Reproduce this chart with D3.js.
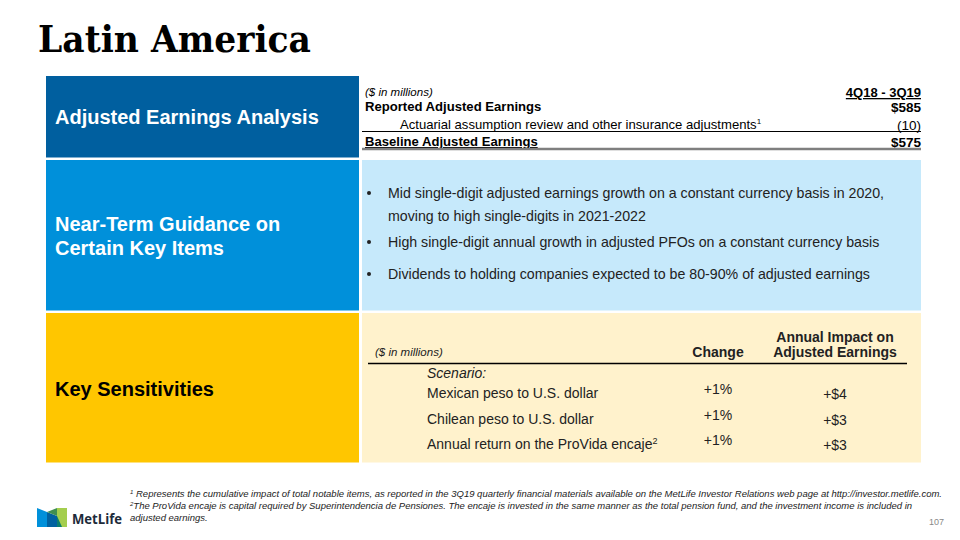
<!DOCTYPE html>
<html><head><meta charset="utf-8">
<script src="https://cdn.jsdelivr.net/npm/d3@7"></script>
<style>
html,body{margin:0;padding:0;background:#fff;}
svg{display:block;font-family:"Liberation Sans",Arial,sans-serif;}
</style></head>
<body>
<svg id="c" width="960" height="540"></svg>
<script>
// ---- Data ----
const title = "Latin America";
const sections = ["Adjusted Earnings Analysis", "Near-Term Guidance on\nCertain Key Items", "Key Sensitivities"];
const earningsHeader = ["($ in millions)", "4Q18 - 3Q19"];
const earningsLabels = ["Reported Adjusted Earnings", "Actuarial assumption review and other insurance adjustments", "Baseline Adjusted Earnings"];
const earningsValues = ["$585", "(10)", "$575"];
const guidanceBullets = [
  "Mid single-digit adjusted earnings growth on a constant currency basis in 2020,\nmoving to high single-digits in 2021-2022",
  "High single-digit annual growth in adjusted PFOs on a constant currency basis",
  "Dividends to holding companies expected to be 80-90% of adjusted earnings"
];
const sensHeader = ["($ in millions)", "Change", "Annual Impact on\nAdjusted Earnings"];
const sensScenarios = ["Mexican peso to U.S. dollar", "Chilean peso to U.S. dollar", "Annual return on the ProVida encaje"];
const sensChange = ["+1%", "+1%", "+1%"];
const sensImpact = ["+$4", "+$3", "+$3"];
const footnotes = [
  ["1", " Represents the cumulative impact of total notable items, as reported in the 3Q19 quarterly financial materials available on the MetLife Investor Relations web page at http://investor.metlife.com."],
  ["2", "The ProVida encaje is capital required by Superintendencia de Pensiones. The encaje is invested in the same manner as the total pension fund, and the investment income is included in"],
  ["", "adjusted earnings."]
];
const pageNumber = "107";

// ---- Drawing ----
const svg = d3.select("#c");

svg.append("text").attr("x", 38).attr("y", 52)
  .attr("font-family", "'DejaVu Serif', 'Liberation Serif', serif")
  .attr("font-weight", "bold").attr("font-size", 37.5)
  .attr("textLength", 273).attr("lengthAdjust", "spacingAndGlyphs")
  .attr("fill", "#000").text(title);

// section rows
const rowY = [76, 160, 313];
const rowH = [81.5, 150.5, 149.5];
const leftColors = ["#005f9f", "#0090da", "#ffc600"];
const rightColors = ["#ffffff", "#c6e9fb", "#fff2cc"];
const leftText = ["#ffffff", "#ffffff", "#000000"];
const textBase = [[124], [231, 255], [396]];

const sec = svg.append("g").selectAll("g").data(sections).join("g");
sec.append("rect").attr("x", 46).attr("y", (d, i) => rowY[i]).attr("width", 313).attr("height", (d, i) => rowH[i])
  .attr("fill", (d, i) => leftColors[i]);
sec.append("rect").attr("x", 362).attr("y", (d, i) => rowY[i]).attr("width", 559).attr("height", (d, i) => rowH[i])
  .attr("fill", (d, i) => rightColors[i]);
sec.each(function (d, i) {
  const g = d3.select(this);
  d.split("\n").forEach((line, j) => {
    g.append("text").attr("x", 55).attr("y", textBase[i][j])
      .attr("font-size", 20).attr("font-weight", "bold").attr("fill", leftText[i]).text(line);
  });
});

// ---- Earnings table ----
const et = svg.append("g");
const eRight = 921;
et.append("text").attr("x", 365).attr("y", 96).attr("font-size", 11.5).attr("font-style", "italic").text(earningsHeader[0]);
et.append("text").attr("x", eRight).attr("y", 97).attr("font-size", 13).attr("font-weight", "bold")
  .attr("text-anchor", "end").attr("text-decoration", "underline").text(earningsHeader[1]);
const eY = d3.scalePoint().domain(earningsLabels).range([111, 146]);
const eRows = et.selectAll("g.row").data(earningsLabels).join("g").attr("class", "row");
eRows.append("text")
  .attr("x", (d, i) => i === 1 ? 400 : 365)
  .attr("y", d => eY(d))
  .attr("font-size", 13.1)
  .attr("font-weight", (d, i) => i === 1 ? "normal" : "bold")
  .attr("text-decoration", (d, i) => i === 2 ? "underline" : null)
  .each(function (d, i) {
    const t = d3.select(this);
    t.append("tspan").text(d);
    if (i === 1) t.append("tspan").attr("font-size", 8).attr("dy", -5).text("1");
  });
eRows.append("text").attr("x", eRight).attr("y", d => eY(d) + 1)
  .attr("font-size", 13.5).attr("text-anchor", "end")
  .attr("font-weight", (d, i) => i === 1 ? "normal" : "bold")
  .attr("text-decoration", (d, i) => i === 2 ? "underline" : null)
  .text((d, i) => earningsValues[i]);
et.append("line").attr("x1", 362).attr("x2", eRight).attr("y1", 131.5).attr("y2", 131.5).attr("stroke", "#000").attr("stroke-width", 1);
et.append("line").attr("x1", 362).attr("x2", eRight).attr("y1", 149).attr("y2", 149).attr("stroke", "#7f7f7f").attr("stroke-width", 2.5);

// ---- Guidance bullets ----
const gb = svg.append("g");
const bulletY = [198, 247, 279];
guidanceBullets.forEach((b, i) => {
  gb.append("circle").attr("cx", 369).attr("cy", bulletY[i] - 5).attr("r", 2).attr("fill", "#222");
  b.split("\n").forEach((line, j) => {
    gb.append("text").attr("x", 388).attr("y", bulletY[i] + j * 23).attr("font-size", 14.2).attr("fill", "#222").text(line);
  });
});

// ---- Sensitivities table ----
const st = svg.append("g");
const colX = d3.scaleOrdinal().domain(["change", "impact"]).range([718, 835]);
st.append("text").attr("x", 375).attr("y", 356).attr("font-size", 11.5).attr("font-style", "italic").attr("fill", "#222").text(sensHeader[0]);
st.append("text").attr("x", colX("change")).attr("y", 357).attr("font-size", 14).attr("font-weight", "bold")
  .attr("text-anchor", "middle").attr("fill", "#222").text(sensHeader[1]);
sensHeader[2].split("\n").forEach((line, j) => {
  st.append("text").attr("x", colX("impact")).attr("y", 342 + j * 15).attr("font-size", 14).attr("font-weight", "bold")
    .attr("text-anchor", "middle").attr("fill", "#222").text(line);
});
st.append("line").attr("x1", 368).attr("x2", 907).attr("y1", 363.5).attr("y2", 363.5).attr("stroke", "#000").attr("stroke-width", 1.5);
st.append("text").attr("x", 427).attr("y", 378).attr("font-size", 14).attr("font-style", "italic").attr("fill", "#222").text("Scenario:");
const sY = d3.scalePoint().domain(sensScenarios).range([398, 449]);
const sRows = st.selectAll("g.srow").data(sensScenarios).join("g").attr("class", "srow");
sRows.append("text").attr("x", 427).attr("y", d => sY(d)).attr("font-size", 14).attr("fill", "#222")
  .each(function (d, i) {
    const t = d3.select(this);
    t.append("tspan").text(d);
    if (i === 2) t.append("tspan").attr("font-size", 9).attr("dy", -5).text("2");
  });
sRows.append("text").attr("x", colX("change")).attr("y", d => sY(d) - 4).attr("font-size", 14)
  .attr("text-anchor", "middle").attr("fill", "#222").text((d, i) => sensChange[i]);
sRows.append("text").attr("x", colX("impact")).attr("y", d => sY(d) + 1).attr("font-size", 14)
  .attr("text-anchor", "middle").attr("fill", "#222").text((d, i) => sensImpact[i]);

// ---- Footnotes ----
const fn = svg.append("g");
footnotes.forEach((f, i) => {
  const t = fn.append("text").attr("x", 130).attr("y", 497 + i * 12).attr("font-size", 9.5)
    .attr("font-style", "italic").attr("fill", "#222");
  if (f[0]) t.append("tspan").attr("font-size", 6).attr("dy", -3).text(f[0]);
  t.append("tspan").attr("dy", f[0] ? 3 : 0).text(f[1]);
});
svg.append("text").attr("x", 944).attr("y", 525).attr("font-size", 9).attr("fill", "#888")
  .attr("text-anchor", "end").text(pageNumber);

// ---- Logo ----
const logo = svg.append("g");
logo.append("polygon").attr("points", "37,508 47,512 47,527 37,527").attr("fill", "#0090da");
logo.append("polygon").attr("points", "47,512 57,516 57,527 47,527").attr("fill", "#0061a0");
logo.append("polygon").attr("points", "47,512 57,508 57,516").attr("fill", "#3f8f50");
logo.append("polygon").attr("points", "57,508 67,508 67,527 57,527").attr("fill", "#a4ce4e");
logo.append("polygon").attr("points", "57,516 62,527 57,527").attr("fill", "#0a7d6e");
logo.append("text").attr("x", 72).attr("y", 524).attr("font-size", 15).attr("font-weight", "bold")
  .attr("textLength", 50).attr("lengthAdjust", "spacingAndGlyphs")
  .attr("fill", "#1d2b3a").attr("font-family", "'Open Sans','Liberation Sans',sans-serif").text("MetLife");
</script>
</body></html>
